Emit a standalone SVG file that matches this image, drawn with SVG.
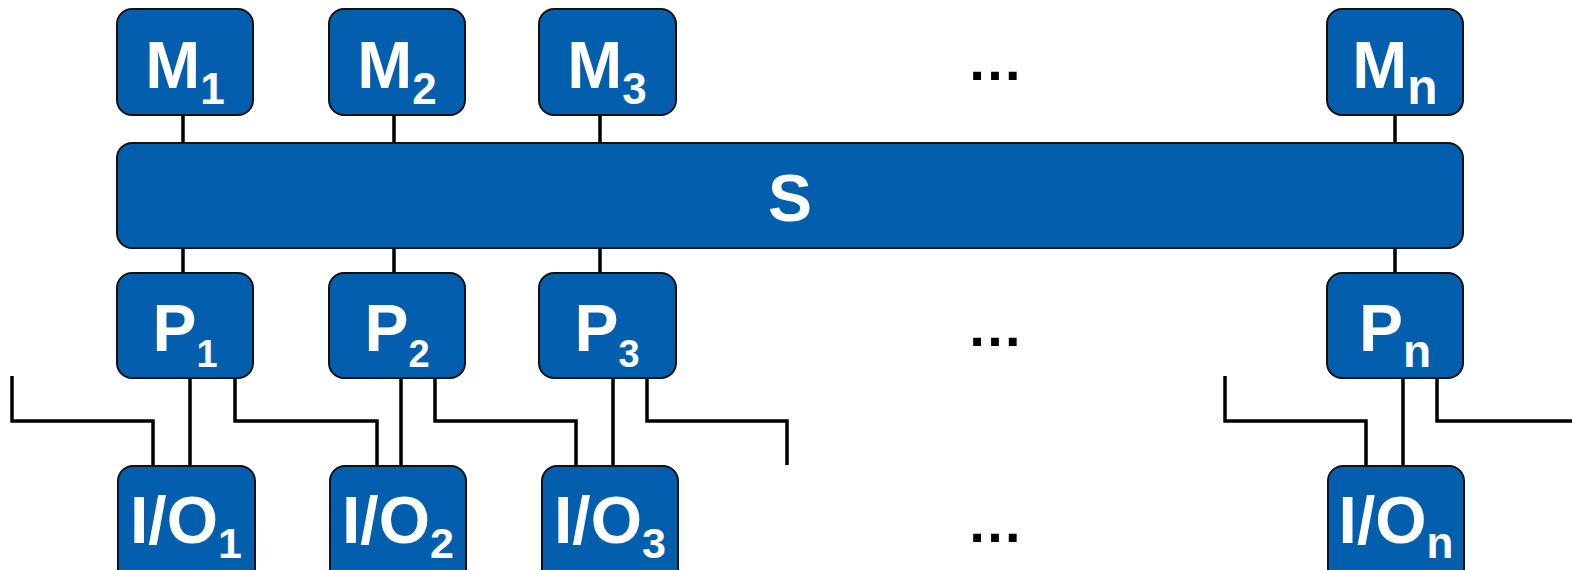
<svg xmlns="http://www.w3.org/2000/svg" width="1572" height="570" viewBox="0 0 1572 570">
<style>
.box{fill:#035FAE;stroke:#111;stroke-width:2}
.lbl{font-family:"Liberation Sans",Arial,sans-serif;font-weight:bold;fill:#fff;font-size:66px;text-anchor:middle}
.dots{font-family:"Liberation Sans",Arial,sans-serif;font-weight:bold;fill:#000;font-size:56px;text-anchor:middle}
.wire{fill:none;stroke:#000;stroke-width:3.5;stroke-linejoin:miter;stroke-linecap:butt}
</style>
<rect width="1572" height="570" fill="#fff"/>
<g id="connectors" class="wire">
<path d="M183 115V143M394 115V143M600 115V143M1395 115V143"/>
<path d="M183 248V273M394 248V273M600 248V273M1395 248V273"/>
<path d="M190 378V466M401 378V466M613 378V466M1403 378V466"/>
<path d="M12 376V421H153V466"/>
<path d="M235 378V421H377V466"/>
<path d="M435 378V421H576V466"/>
<path d="M647 378V421H787V465"/>
<path d="M1225 376V421H1366V466"/>
<path d="M1437 378V421H1572"/>
</g>
<g id="M1"><rect class="box" x="117" y="9" width="136" height="106" rx="15"/><text class="lbl" x="185" y="88">M<tspan font-size="44" dy="16">1</tspan></text></g>
<g id="M2"><rect class="box" x="329" y="9" width="136" height="106" rx="15"/><text class="lbl" x="397" y="88">M<tspan font-size="44" dy="16">2</tspan></text></g>
<g id="M3"><rect class="box" x="539" y="9" width="137" height="106" rx="15"/><text class="lbl" x="607" y="88">M<tspan font-size="44" dy="16">3</tspan></text></g>
<g id="Mn"><rect class="box" x="1327" y="9" width="136" height="106" rx="15"/><text class="lbl" x="1395" y="88">M<tspan font-size="50" dy="16">n</tspan></text></g>
<g id="S"><rect class="box" x="117" y="143" width="1346" height="105" rx="15"/><text class="lbl" x="790" y="221">S</text></g>
<g id="P1"><rect class="box" x="117" y="273" width="136" height="105" rx="15"/><text class="lbl" x="185" y="351">P<tspan font-size="38" dy="16">1</tspan></text></g>
<g id="P2"><rect class="box" x="329" y="273" width="136" height="105" rx="15"/><text class="lbl" x="397" y="351">P<tspan font-size="38" dy="16">2</tspan></text></g>
<g id="P3"><rect class="box" x="539" y="273" width="137" height="105" rx="15"/><text class="lbl" x="607" y="351">P<tspan font-size="38" dy="16">3</tspan></text></g>
<g id="Pn"><rect class="box" x="1327" y="273" width="136" height="105" rx="15"/><text class="lbl" x="1395" y="351">P<tspan font-size="46" dy="16">n</tspan></text></g>
<g id="IO1"><rect class="box" x="118" y="466" width="137" height="120" rx="15"/><text class="lbl" x="186" y="543">I/O<tspan font-size="43" dy="15">1</tspan></text></g>
<g id="IO2"><rect class="box" x="330" y="466" width="136" height="120" rx="15"/><text class="lbl" x="398" y="543">I/O<tspan font-size="43" dy="15">2</tspan></text></g>
<g id="IO3"><rect class="box" x="542" y="466" width="136" height="120" rx="15"/><text class="lbl" x="610" y="543">I/O<tspan font-size="43" dy="15">3</tspan></text></g>
<g id="IOn"><rect class="box" x="1328" y="466" width="136" height="120" rx="15"/><text class="lbl" x="1396" y="543">I/O<tspan font-size="44" dy="15">n</tspan></text></g>
<g id="dots"><text class="dots" x="995" y="80">…</text><text class="dots" x="995" y="346">…</text><text class="dots" x="995" y="542">…</text></g>
</svg>
